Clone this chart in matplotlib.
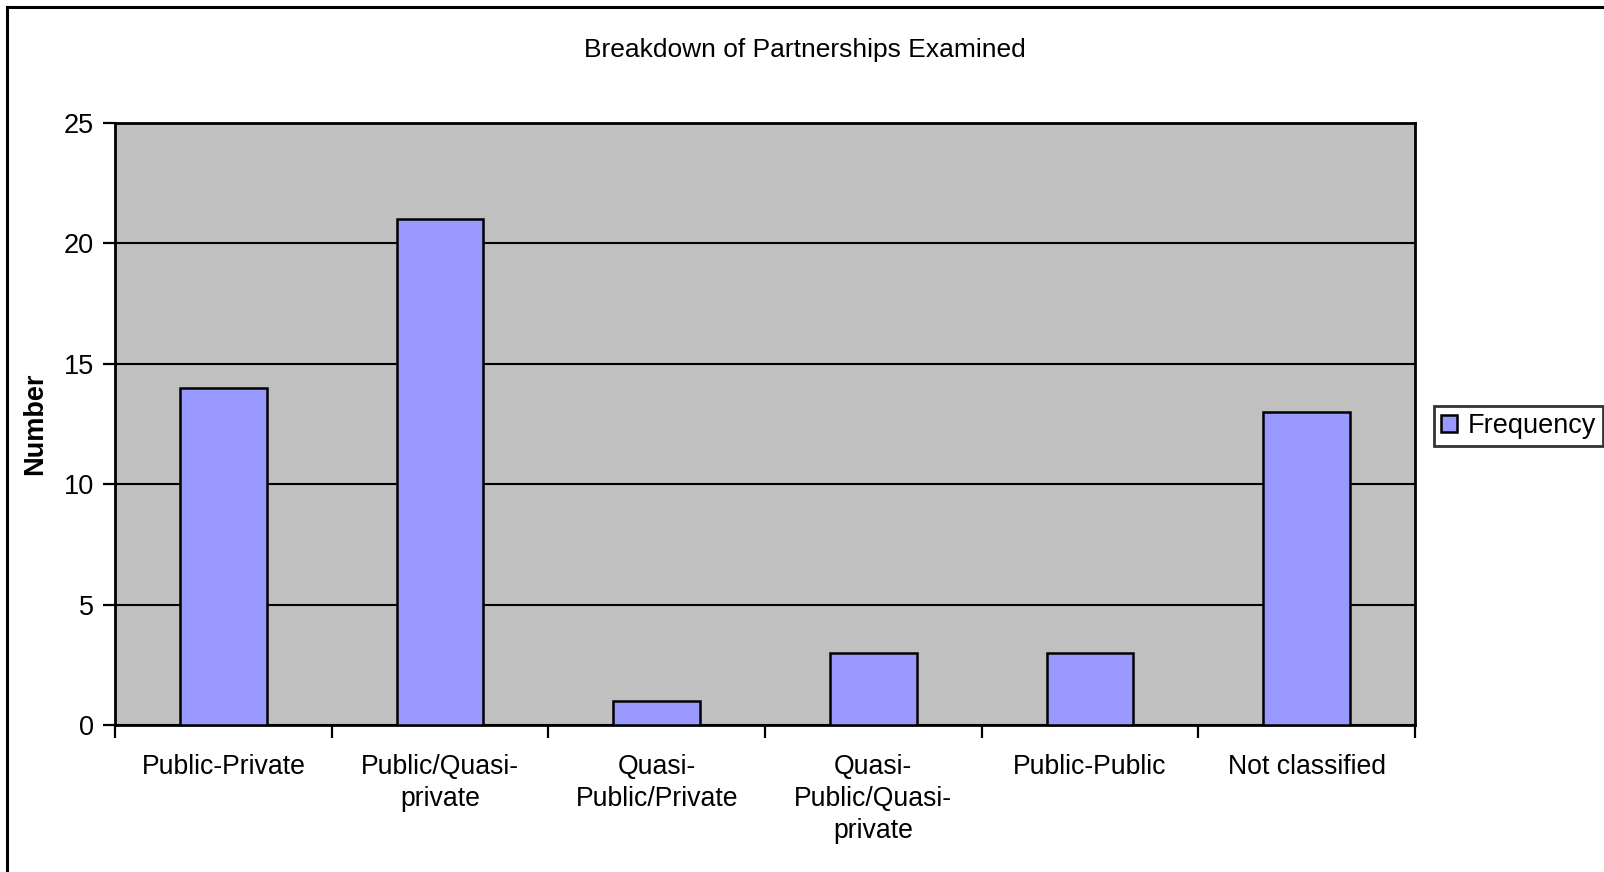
#!/usr/bin/env python3
"""
breakdown of partnerships examined
"""

import numpy as np
import matplotlib.pyplot as plt
from matplotlib.lines import Line2D

categories = ['Public-Private', 'Public/Quasi-\nprivate', 'Quasi-\nPublic/Private',
              'Quasi-\nPublic/Quasi-\nprivate', 'Public-Public', 'Not classified']
frequency = [14, 21, 1, 3, 3, 13]
y_ticks = [0, 5, 10, 15, 20, 25]

plt.rcParams['font.family'] = ['Liberation Sans', 'DejaVu Sans']

W, H = 1604, 872
fig = plt.figure(figsize=(W / 100, H / 100), dpi=100)
ax = fig.add_axes([115 / W, 1 - 725 / H, 1300 / W, 602 / H])

x = np.arange(len(categories))
ax.set_facecolor('#c0c0c0')
ax.bar(x, frequency, width=0.4, color='#9999ff', edgecolor='black',
       linewidth=1.8, label='Frequency', zorder=3)

ax.set_xlim(-0.5, len(categories) - 0.5)
ax.set_ylim(0, 25)
ax.set_yticks(y_ticks)
ax.yaxis.grid(True, color='black', linewidth=1.5, zorder=1)
ax.set_axisbelow(True)

# boundaries get the tick marks, centres get the labels
ax.set_xticks(np.arange(len(categories) + 1) - 0.5)
ax.set_xticklabels([])
ax.set_xticks(x, minor=True)
ax.set_xticklabels(categories, minor=True, fontsize=19.2, linespacing=1.3)
ax.tick_params(axis='x', which='minor', length=0, pad=21)
ax.tick_params(axis='x', which='major', length=9, width=1.6, direction='out')
ax.tick_params(axis='y', length=9, width=1.6, labelsize=19.5, pad=6)

for spine in ax.spines.values():
    spine.set_linewidth(2)
    spine.set_color('black')

ax.set_ylabel('Number', fontsize=19.5, fontweight='bold')
ax.yaxis.set_label_coords(-67 / 1300, 0.5)

fig.text(805 / W, 1 - 50 / H, 'Breakdown of Partnerships Examined',
         fontsize=19, ha='center', va='center')

leg = ax.legend(loc='center left', bbox_to_anchor=(1434 / W, 1 - 426 / H),
                bbox_transform=fig.transFigure, fontsize=19.5, frameon=True,
                fancybox=False, handlelength=0.6, handleheight=0.6,
                handletextpad=0.4, borderpad=0.25, borderaxespad=0)
leg.get_frame().set_edgecolor('black')
leg.get_frame().set_linewidth(2)

# outer chart border, cropped on the right and bottom
fig.add_artist(Line2D([7 / W, 7 / W], [0, 1 - 7 / H], transform=fig.transFigure,
                      color='black', linewidth=2.2))
fig.add_artist(Line2D([7 / W, 1], [1 - 7 / H, 1 - 7 / H], transform=fig.transFigure,
                      color='black', linewidth=2.2))

fig.savefig('out.png', dpi=100)
